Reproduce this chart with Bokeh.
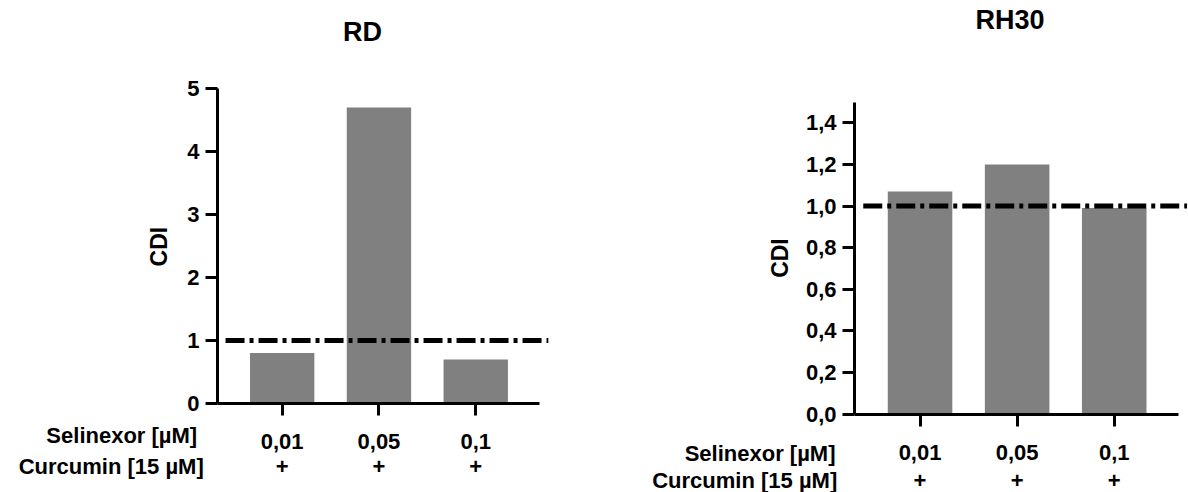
import math
from bokeh.plotting import figure
from bokeh.layouts import row
from bokeh.models import (LinearAxis, FixedTicker, Range1d, Label,
                          CustomJSTickFormatter, ColumnDataSource)
from bokeh.embed import file_html
from bokeh.resources import INLINE

# ---- data -------------------------------------------------------------
selinexor_labels = ["0,01", "0,05", "0,1"]      # Selinexor [µM]
curcumin_labels = ["+", "+", "+"]               # Curcumin [15 µM]
rd_cdi = [0.8, 4.7, 0.7]
rh30_cdi = [1.07, 1.2, 0.99]
cdi_threshold = 1.0
rd_ticks = [0, 1, 2, 3, 4, 5]
rh30_ticks = [0.0, 0.2, 0.4, 0.6, 0.8, 1.0, 1.2, 1.4]

FONT = "Liberation Sans"
BAR_COLOR = "#808080"
TICK_SIZE = "22px"


def bold_text(**kw):
    base = dict(text_font=FONT, text_font_style="bold", text_color="black")
    base.update(kw)
    return base


def panel(title, values, y_ticks, y_max, y_fmt, width, x_range, y_range, y_axis_x,
          stand1, stand2, title_xy, cdi_xy, row_label_xy):
    cats = list(range(len(values)))
    p = figure(width=width, height=492, output_backend="svg", toolbar_location=None,
               x_range=Range1d(*x_range), y_range=Range1d(*y_range),
               x_axis_location=None, y_axis_location=None,
               min_border_left=0, min_border_right=0,
               min_border_top=0, min_border_bottom=0)
    p.outline_line_color = None
    p.grid.visible = False
    p.background_fill_color = "white"

    src = ColumnDataSource(dict(x=cats, cdi=values))
    p.vbar(x="x", top="cdi", width=0.665, bottom=0, source=src,
           fill_color=BAR_COLOR, line_color=None)

    # reference line at CDI = 1 (dash-dot)
    p.line(x=[cats[0] - 0.585, cats[-1] + 0.75], y=[cdi_threshold, cdi_threshold],
           line_color="black", line_width=5, line_dash="19 5 4 5")

    x_hi = cats[-1] + 0.66
    common = dict(major_label_text_font=FONT, major_label_text_font_style="bold",
                  major_label_text_font_size=TICK_SIZE,
                  major_label_text_color="black", minor_tick_line_color=None)

    # category axis (Selinexor concentrations)
    ax1 = LinearAxis(fixed_location=0, bounds=(y_axis_x, x_hi),
                     ticker=FixedTicker(ticks=cats),
                     major_label_overrides={c: s for c, s in zip(cats, selinexor_labels)},
                     axis_line_width=3, axis_line_color="black",
                     major_tick_line_width=3, major_tick_out=12, major_tick_in=0,
                     major_label_standoff=stand1, **common)
    p.add_layout(ax1, "below")

    # second row (Curcumin present)
    ax2 = LinearAxis(fixed_location=0, bounds=(y_axis_x, x_hi),
                     ticker=FixedTicker(ticks=cats),
                     major_label_overrides={c: s for c, s in zip(cats, curcumin_labels)},
                     axis_line_color=None, major_tick_line_color=None,
                     major_tick_out=0, major_tick_in=0,
                     major_label_standoff=stand2, **common)
    p.add_layout(ax2, "below")

    # value axis
    ya = LinearAxis(fixed_location=y_axis_x, bounds=(0, y_max),
                    ticker=FixedTicker(ticks=y_ticks), formatter=y_fmt,
                    axis_line_width=3, axis_line_color="black",
                    major_tick_line_width=3, major_tick_out=12, major_tick_in=0,
                    major_label_standoff=6, **common)
    p.add_layout(ya, "left")

    p.add_layout(Label(x=cdi_xy[0], y=cdi_xy[1], text="CDI", angle=math.pi / 2,
                       **bold_text(text_font_size="23px", text_align="center",
                                   text_baseline="middle")))

    p.add_layout(Label(x=title_xy[0], y=title_xy[1], text=title,
                       **bold_text(text_font_size="27px", text_align="center",
                                   text_baseline="alphabetic")))

    for (lx, ly), txt in zip(row_label_xy, ("Selinexor [µM]", "Curcumin [15 µM]")):
        p.add_layout(Label(x=lx, y=ly, text=txt,
                           **bold_text(text_font_size=TICK_SIZE, text_align="right",
                                       text_baseline="alphabetic")))
    return p


int_fmt = CustomJSTickFormatter(code="return tick.toFixed(0);")
dec_fmt = CustomJSTickFormatter(code="return tick.toFixed(1).replace('.', ',');")

p_rd = panel("RD", rd_cdi, rd_ticks, 5, int_fmt, 594,
             (-2.910, 3.227), (-1.413, 6.397), -0.668, 19, 56,
             (0.83, 5.894), (-1.277, 2.49),
             ((-0.878, -0.508), (-0.81, -1.0)))
p_rh = panel("RH30", rh30_cdi, rh30_ticks, 1.5, dec_fmt, 594,
             (-3.353, 2.765), (-0.377, 1.988), -0.675, 19, 59,
             (0.927, 1.892), (-1.447, 0.75),
             ((-0.871, -0.19), (-0.853, -0.319)))

layout = row(p_rd, p_rh, spacing=0)
open("out.html", "w").write(file_html(layout, INLINE))
